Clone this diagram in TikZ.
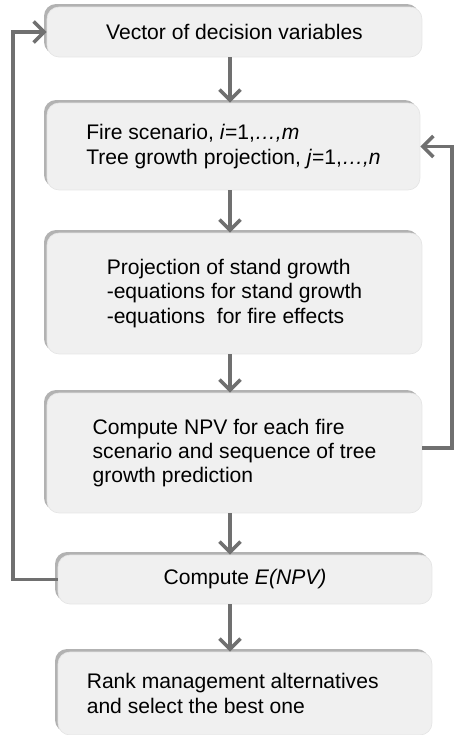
\documentclass[tikz,border=0pt]{standalone}
\usepackage{fontspec}
\setmainfont{Liberation Sans}
\usetikzlibrary{arrows.meta,shadows}

\definecolor{linegray}{RGB}{112,112,112}
\definecolor{boxgray}{RGB}{240,240,240}

\tikzset{
  stepbox/.style={rectangle, rounded corners=2.4mm, fill=boxgray, draw=gray!20,
    align=left, inner sep=0pt,
    font=\fontsize{12}{13.8}\selectfont,
    general shadow={shadow xshift=-0.6mm, shadow yshift=0.6mm, fill=gray!60}},
  flow/.style={draw=linegray, line width=2pt,
    -{Straight Barb[length=6pt,width=12pt,line width=2pt]}}
}

\begin{document}
\begin{tikzpicture}[x=0.02cm,y=-0.02cm]
\useasboundingbox (0,0) rectangle (455,735);
\node[stepbox, minimum width=7.5cm, minimum height=1cm] (V) at (234.5,32) {Vector of decision variables};
\node[stepbox, minimum width=7.46cm, minimum height=1.74cm] (F) at (233.5,146.5)
  {Fire scenario, \textit{i}=1,\textit{…,m}\\Tree growth projection, \textit{j}=1,\textit{…,n}};
\node[stepbox, minimum width=7.5cm, minimum height=2.42cm] (P) at (234.5,293.5)
  {Projection of stand growth\\-equations for stand growth\\-equations\ \ for fire effects};
\node[stepbox, minimum width=7.5cm, minimum height=2.4cm] (N) at (234.5,453)
  {Compute NPV for each fire\\scenario and sequence of tree\\growth prediction};
\node[stepbox, minimum width=7.48cm, minimum height=0.98cm] (E) at (245,579.5) {Compute \textit{E(NPV)}};
\node[stepbox, minimum width=7.48cm, minimum height=1.66cm] (R) at (245,693.5)
  {Rank management alternatives\hspace*{14pt}\\and select the best one};
\coordinate (left) at (13,0);
\coordinate (right) at (452,0);
\coordinate (mid) at (230,0);
\foreach \a/\b in {V/F,F/P,P/N,N/E,E/R} {
    \draw[flow] (mid |- \a.south) -- (mid |- \b.north);
}
\draw[flow] (E.west) -- (left |- E.west) |- (V.west);
\draw[flow] ([yshift=0.1cm]N.east) -- ([yshift=0.1cm]right |- N.east) |- (F.east);
\end{tikzpicture}
\end{document}
